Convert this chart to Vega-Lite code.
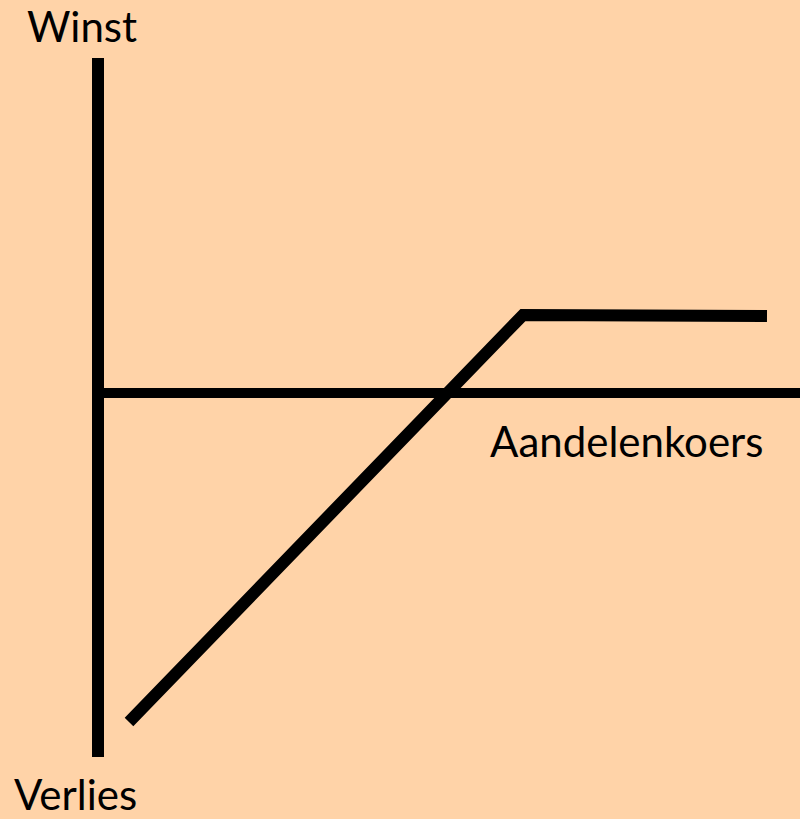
{
  "$schema": "https://vega.github.io/schema/vega-lite/v6.json",
  "width": 800,
  "height": 819,
  "padding": 0,
  "autosize": {"type": "none"},
  "background": "#FFD3A8",
  "config": {"view": {"stroke": null}},
  "datasets": {
    "lines": [
      {"seg": "yas", "order": 1, "x": 98, "y": 761},
      {"seg": "yas", "order": 2, "x": 98, "y": 62},
      {"seg": "xas", "order": 1, "x": 97, "y": 426},
      {"seg": "xas", "order": 2, "x": 800, "y": 426},
      {"seg": "winst", "order": 1, "x": 129, "y": 97},
      {"seg": "winst", "order": 2, "x": 523, "y": 504},
      {"seg": "winst", "order": 3, "x": 767, "y": 503}
    ],
    "labels": [
      {"label": "Winst", "x": 27, "y": 777},
      {"label": "Verlies", "x": 14, "y": 9},
      {"label": "Aandelenkoers", "x": 490, "y": 362}
    ]
  },
  "encoding": {
    "x": {"field": "x", "type": "quantitative", "scale": {"domain": [0, 800], "nice": false, "zero": false}, "axis": null},
    "y": {"field": "y", "type": "quantitative", "scale": {"domain": [0, 819], "nice": false, "zero": false}, "axis": null}
  },
  "layer": [
    {
      "data": {"name": "lines"},
      "transform": [{"filter": "datum.seg === 'yas'"}],
      "mark": {"type": "line", "color": "black", "strokeWidth": 12, "strokeCap": "butt"},
      "encoding": {"order": {"field": "order"}, "detail": {"field": "seg"}}
    },
    {
      "data": {"name": "lines"},
      "transform": [{"filter": "datum.seg === 'xas'"}],
      "mark": {"type": "line", "color": "black", "strokeWidth": 10, "strokeCap": "butt"},
      "encoding": {"order": {"field": "order"}, "detail": {"field": "seg"}}
    },
    {
      "data": {"name": "lines"},
      "transform": [{"filter": "datum.seg === 'winst'"}],
      "mark": {"type": "line", "color": "black", "strokeWidth": 12, "strokeCap": "butt", "strokeJoin": "miter"},
      "encoding": {"order": {"field": "order"}, "detail": {"field": "seg"}}
    },
    {
      "data": {"name": "labels"},
      "mark": {"type": "text", "align": "left", "baseline": "alphabetic", "font": "Lato", "fontSize": 42, "color": "black"},
      "encoding": {"text": {"field": "label"}}
    }
  ]
}
